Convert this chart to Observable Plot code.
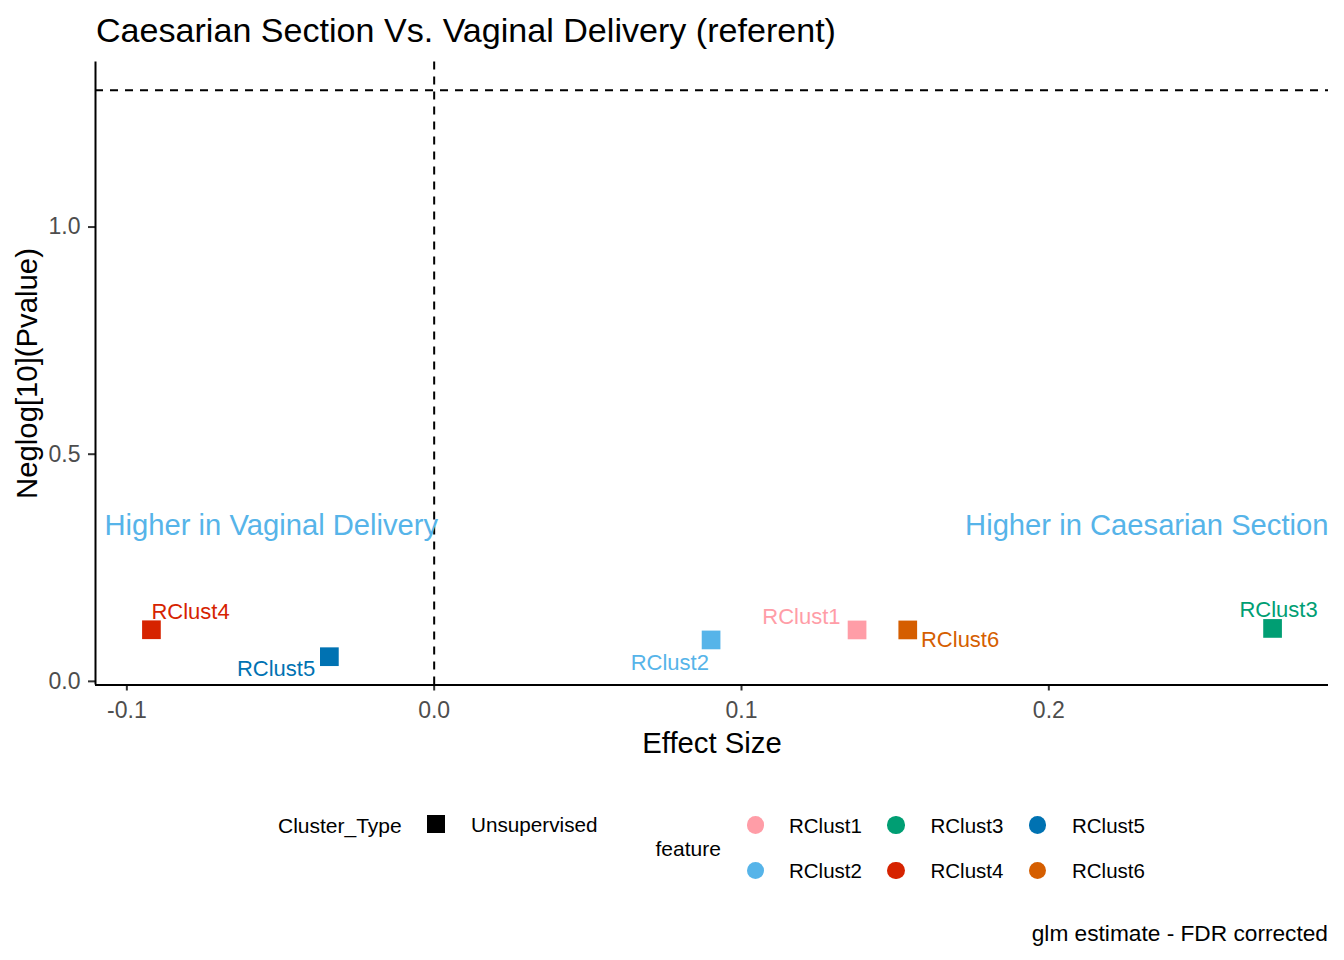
<!DOCTYPE html>
<html><head><meta charset="utf-8">
<script src="https://cdn.jsdelivr.net/npm/d3@7"></script>
<script src="https://cdn.jsdelivr.net/npm/@observablehq/plot@0.6"></script>
<style>
body{margin:0;background:#fff;font-family:"Liberation Sans",Arial,sans-serif;}
#root{position:relative;width:1344px;height:960px;overflow:hidden;background:#fff;}
.t{position:absolute;white-space:nowrap;line-height:1;color:#000;font-family:"Liberation Sans",Arial,sans-serif;}
#plot{position:absolute;left:0;top:40px;}
</style></head><body><div id="root"><div id="plot"></div></div>
<script>
// ---- data ----
const features = ["RClust1","RClust2","RClust3","RClust4","RClust5","RClust6"];
const effectSize = [0.1376, 0.0901, 0.2728, -0.0920, -0.0341, 0.1541];
const negLogP = [0.1132, 0.0912, 0.1165, 0.1136, 0.0543, 0.1132];
const clusterType = ["Unsupervised","Unsupervised","Unsupervised","Unsupervised","Unsupervised","Unsupervised"];
const featureColors = ["#FF9DA7","#56B4E9","#009E73","#D62300","#0072B2","#D55E00"];
const clusterTypes = ["Unsupervised"];
const xTicks = [-0.1, 0.0, 0.1, 0.2];
const yTicks = [0.0, 0.5, 1.0];
const pThreshold = 0.05;
const xDomain = [-0.1102, 0.2910];
const yDomain = [-0.0080, 1.3633];
const annotY = 0.343;
const annotLeft = "Higher in Vaginal Delivery";
const annotRight = "Higher in Caesarian Section";
const titleText = "Caesarian Section Vs. Vaginal Delivery (referent)";
const xLabel = "Effect Size";
const yLabel = "Neglog[10](Pvalue)";
const captionText = "glm estimate - FDR corrected";

const rows = features.map((f, i) => ({feature: f, x: effectSize[i], y: negLogP[i], type: clusterType[i]}));

// label placement (styling, repel-like offsets)
const labelPlacement = {
  RClust1: {anchor: "end", dx: -16.5, dy: -12.5},
  RClust2: {anchor: "end", dx: -2.2, dy: 22.8},
  RClust3: {anchor: "middle", dx: 6, dy: -18.3},
  RClust4: {anchor: "start", dx: 0, dy: -18},
  RClust5: {anchor: "end", dx: -14.2, dy: 12.7},
  RClust6: {anchor: "start", dx: 13.2, dy: 10.2}
};

const FONT = "Liberation Sans, Arial, sans-serif";
const labelMarks = features.map(f => {
  const p = labelPlacement[f];
  return Plot.text(rows.filter(r => r.feature === f), {
    x: "x", y: "y", text: "feature", fill: "feature",
    textAnchor: p.anchor, dx: p.dx, dy: p.dy, lineAnchor: "middle",
    fontSize: 22, fontFamily: FONT
  });
});

const dashStyle = {stroke: "black", strokeWidth: 2, strokeDasharray: "8,7"};

const chart = Plot.plot({
  width: 1344,
  height: 740,
  marginTop: 21.5,
  marginBottom: 95.5,
  marginLeft: 95,
  marginRight: 16,
  style: {fontFamily: FONT, background: "transparent"},
  x: {domain: xDomain},
  y: {domain: yDomain},
  color: {domain: features, range: featureColors},
  marks: [
    Plot.ruleX([0], dashStyle),
    Plot.ruleY([-Math.log10(pThreshold)], dashStyle),
    Plot.text([annotLeft], {text: d => d, y: () => annotY, frameAnchor: "left", textAnchor: "start", dx: 9, lineAnchor: "middle", fill: "#56B4E9", fontSize: 29.2, fontFamily: FONT}),
    Plot.text([annotRight], {text: d => d, y: () => annotY, frameAnchor: "right", textAnchor: "end", dx: 0, lineAnchor: "middle", fill: "#56B4E9", fontSize: 29.2, fontFamily: FONT}),
    Plot.dot(rows, {x: "x", y: "y", fill: "feature", symbol: "square", r: 10.55}),
    ...labelMarks,
    Plot.axisX({ticks: xTicks, tickFormat: d => d.toFixed(1), tickSize: 6, tickPadding: 11, fontSize: 23, stroke: "#333333", strokeWidth: 2, fill: "#4D4D4D", label: null}),
    Plot.axisY({ticks: yTicks, tickFormat: d => d.toFixed(1), tickSize: 7, tickPadding: 8, fontSize: 23, stroke: "#333333", strokeWidth: 2, fill: "#4D4D4D", label: null}),
    Plot.ruleY([yDomain[0]], {stroke: "black", strokeWidth: 2}),
    Plot.ruleX([xDomain[0]], {stroke: "black", strokeWidth: 2}),
    Plot.text([xLabel], {text: d => d, frameAnchor: "bottom", textAnchor: "middle", dy: 58.3, lineAnchor: "middle", fontSize: 29.3, fill: "black", fontFamily: FONT}),
    Plot.text([yLabel], {text: d => d, frameAnchor: "left", textAnchor: "middle", dx: -67.6, rotate: -90, lineAnchor: "middle", fontSize: 29.3, fill: "black", fontFamily: FONT})
  ]
});
document.getElementById("plot").appendChild(chart);

// ---- HTML text / legend ----
const root = document.getElementById("root");
function addText(str, x, baseline, fs, opts = {}) {
  const d = document.createElement("div");
  d.className = "t";
  d.textContent = str;
  d.style.fontSize = fs + "px";
  d.style.top = (baseline - 0.8465 * fs) + "px";
  if (opts.right !== undefined) d.style.right = opts.right + "px"; else d.style.left = x + "px";
  if (opts.color) d.style.color = opts.color;
  root.appendChild(d);
  return d;
}
function addSwatch(cx, cy, size, color, round) {
  const d = document.createElement("div");
  d.style.position = "absolute";
  d.style.left = (cx - size / 2) + "px";
  d.style.top = (cy - size / 2) + "px";
  d.style.width = size + "px";
  d.style.height = size + "px";
  d.style.background = color;
  if (round) d.style.borderRadius = "50%";
  root.appendChild(d);
}

addText(titleText, 96, 42, 34.1);

// Cluster_Type legend
addText("Cluster_Type", 278, 833, 21);
clusterTypes.forEach((t, i) => {
  addSwatch(436.2, 823.7, 17.8, "#000", false);
  addText(t, 471, 833, 20.7);
});

// feature legend (2 rows x 3 columns, column-major)
addText("feature", 655.5, 855.5, 21);
const colX = [755.3, 896, 1037.7];
const labX = [789, 930.5, 1072];
const rowY = [825, 870.5];
const rowBase = [833.3, 878.8];
features.forEach((f, i) => {
  const c = Math.floor(i / 2), r = i % 2;
  addSwatch(colX[c], rowY[r], 17.4, featureColors[i], true);
  addText(f, labX[c], rowBase[r], 20.5);
});

addText(captionText, 0, 941.5, 22.7, {right: 16});
</script>
</body></html>
